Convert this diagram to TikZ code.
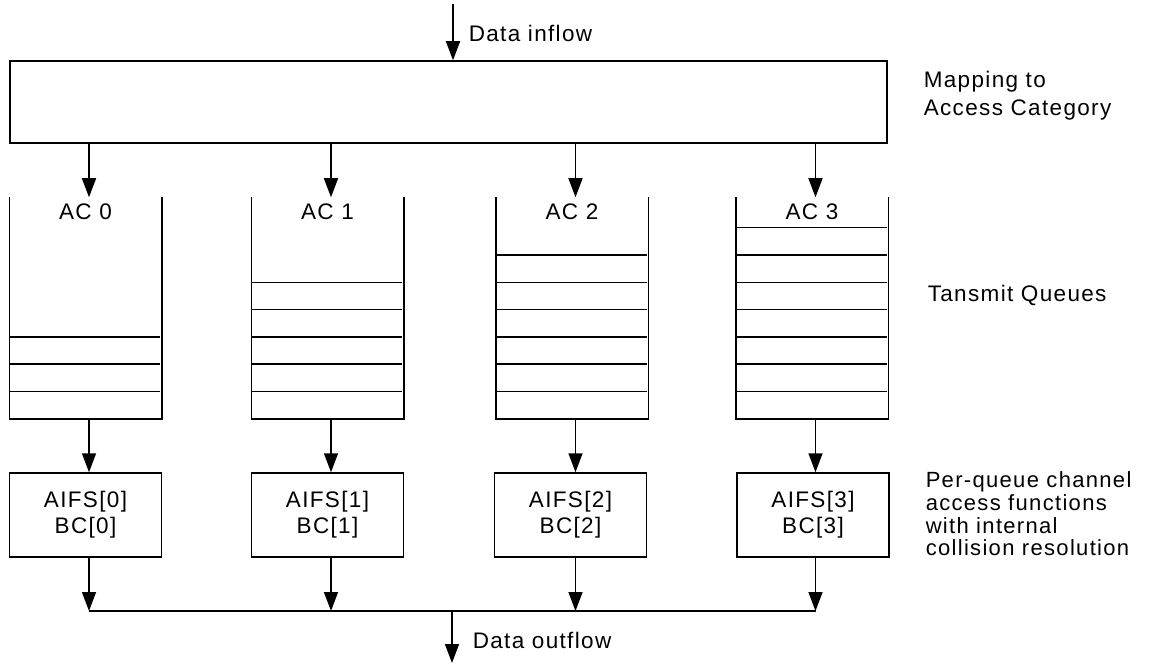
\documentclass[tikz,border=0pt]{standalone}
\usepackage{fontspec}
\setmainfont{Liberation Sans}[LetterSpace=6]
\usetikzlibrary{arrows.meta}
\begin{document}
\begin{tikzpicture}[x=1pt,y=-1pt,
  line width=1.5pt,
  arr/.style={-{Triangle[length=19pt,width=14pt]}},
  fbox/.style={draw,inner sep=0pt,minimum width=152pt,minimum height=84pt,align=center,font=\fontsize{22.5}{26}\selectfont},
  qframe/.style={inner sep=0pt,minimum width=151pt,minimum height=220pt},
  lbl/.style={inner sep=0pt,align=left,anchor=west,font=\fontsize{22.5}{23}\selectfont},
  aclbl/.style={inner sep=0pt,font=\fontsize{22.5}{23}\selectfont}]
\useasboundingbox (0,0) rectangle (1157,666);

% mapping box
\node[draw,inner sep=0pt,minimum width=877pt,minimum height=82pt] (map) at (448.5,102) {};

% inflow
\coordinate (inTop) at (453,4);
\draw[arr] (inTop) -- (inTop |- map.north);
\node[lbl] (tin) at (468,33) {Data inflow};

% bus and outflow
\coordinate (bus) at (0,611);
\coordinate (outEnd) at (452,663);
\node[lbl] (tout) at (472,640) {Data outflow};

% queues and functions
\foreach \i/\c/\n/\fc in {0/85.5/3/85.5, 1/327.5/5/327.5, 2/572/6/570.5, 3/812/7/813}{
  \node[qframe] (q\i) at (\c,308) {};
  \coordinate (t\i) at ([xshift=3.5pt]q\i.north);
  \draw (q\i.north west) |- (q\i.south east) -- (q\i.north east);
  \foreach \k in {1,...,\n}{
    \draw (q\i.south west) ++(0,-\k*27.3) -- ++(151,0);
  }
  \node[aclbl] (ac\i) at (\c,212) {AC \i};
  \node[fbox] (f\i) at (\fc,515) {AIFS[\i]\\BC[\i]};
  \draw[arr] (t\i |- map.south) -- (t\i |- q\i.north);
  \draw[arr] (t\i |- q\i.south) -- (t\i |- f\i.north);
  \draw[arr] (t\i |- f\i.south) -- (t\i |- bus);
}
\draw (t0 |- bus) -- (t3 |- bus);
\draw[arr] (outEnd |- bus) -- (outEnd);

% right-hand labels
\node[lbl,font=\fontsize{22.5}{28}\selectfont] (lmap) at (923,96) {Mapping to\\Access Category};
\node[lbl] (lq) at (927,295) {Tansmit Queues};
\node[lbl,font=\fontsize{22}{22.7}\selectfont] (lf) at (925,514) {Per-queue channel\\access functions\\with internal\\collision resolution};
\end{tikzpicture}
\end{document}
